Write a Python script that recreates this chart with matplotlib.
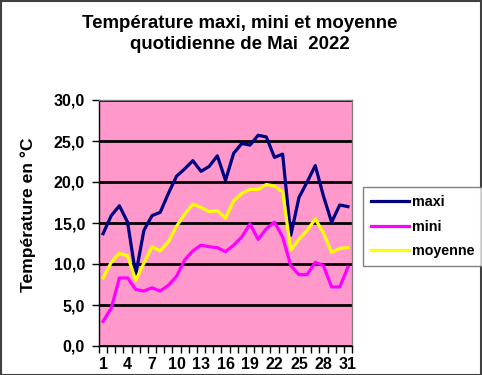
import matplotlib
matplotlib.use("Agg")
import matplotlib.pyplot as plt
from matplotlib.ticker import MultipleLocator, FixedLocator, FuncFormatter
from matplotlib.patches import Rectangle

days = list(range(1, 32))
maxi = [13.7, 15.9, 17.1, 15.1, 8.7, 14.1, 15.9, 16.3, 18.6, 20.7, 21.6, 22.6, 21.3, 21.9, 23.2, 20.2,
        23.5, 24.7, 24.5, 25.7, 25.5, 23.0, 23.4, 13.5, 18.1, 20.0, 22.0, 18.3, 15.1, 17.2, 17.0]
mini = [3.0, 4.6, 8.3, 8.3, 6.9, 6.7, 7.1, 6.7, 7.4, 8.5, 10.5, 11.6, 12.3, 12.1, 12.0, 11.5,
        12.3, 13.3, 14.9, 13.0, 14.3, 15.1, 13.3, 9.8, 8.7, 8.7, 10.2, 9.8, 7.2, 7.2, 9.6]
moyenne = [8.3, 10.2, 11.3, 11.0, 8.0, 10.1, 12.1, 11.6, 12.7, 14.6, 16.1, 17.3, 16.9, 16.4, 16.5, 15.6,
           17.7, 18.6, 19.1, 19.1, 19.7, 19.5, 18.8, 11.7, 13.0, 14.1, 15.5, 13.8, 11.4, 11.9, 12.0]
xtick_labels = [1, 4, 7, 10, 13, 16, 19, 22, 25, 28, 31]
series_names = ["maxi", "mini", "moyenne"]

plt.rcParams['font.family'] = ['Liberation Sans', 'DejaVu Sans']

fig = plt.figure(figsize=(4.82, 3.75), dpi=100)
fig.patch.set_facecolor('white')
W, H = 482, 375
ax = fig.add_axes([99 / W, 1 - 346 / H, (352 - 99) / W, (346 - 100) / H])
ax.set_facecolor('#FF99CC')

ax.plot(days, maxi, color='#000080', lw=2.3, label=series_names[0], zorder=3)
ax.plot(days, mini, color='#FF00FF', lw=2.3, label=series_names[1], zorder=3)
ax.plot(days, moyenne, color='#FFFF00', lw=2.3, label=series_names[2], zorder=3)

ax.set_xlim(0.5, 31.5)
ax.set_ylim(0, 30)
ax.yaxis.set_major_locator(MultipleLocator(5))
ax.yaxis.set_major_formatter(FuncFormatter(lambda v, p: f"{v:.1f}".replace('.', ',')))
ax.grid(axis='y', color='black', lw=2, zorder=1)
ax.set_axisbelow(True)

ax.xaxis.set_major_locator(FixedLocator(xtick_labels))
ax.xaxis.set_minor_locator(FixedLocator([d + 0.5 for d in range(0, 32)]))
ax.tick_params(axis='x', which='major', length=0, pad=8)
ax.tick_params(axis='x', which='minor', length=5, width=1, color='black')
ax.tick_params(axis='y', which='major', length=5, width=1, color='black', pad=5)
for lab in ax.get_xticklabels() + ax.get_yticklabels():
    lab.set_fontweight('bold')
    lab.set_fontsize(11.5)

for s in ['top', 'right']:
    ax.spines[s].set_color('#808080')
    ax.spines[s].set_linewidth(1)
for s in ['left', 'bottom']:
    ax.spines[s].set_color('black')
    ax.spines[s].set_linewidth(1)

fig.text(28 / W, 1 - 215 / H, "Température en °C", rotation=90, ha='center', va='center',
         fontsize=12.6, fontweight='bold')

fig.text(240 / W, 1 - 34 / H, "Température maxi, mini et moyenne\nquotidienne de Mai  2022",
         ha='center', va='center', fontsize=13.4, fontweight='bold', linespacing=1.3)

leg = fig.legend(loc='upper left', bbox_to_anchor=(363 / W, 1 - 187 / H), frameon=True,
                 fancybox=False, edgecolor='#606060', fontsize=10.3, handlelength=2.7,
                 handletextpad=0.15, labelspacing=0.75, borderpad=0.55, borderaxespad=0)
leg.get_frame().set_linewidth(1)
for t in leg.get_texts():
    t.set_fontweight('bold')

fig.patches.append(Rectangle((0.5 / W, 0.5 / H), 1 - 1.5 / W, 1 - 1.5 / H, transform=fig.transFigure,
                             fill=False, edgecolor='#404040', lw=1.5))

fig.savefig('out.png', dpi=100)
